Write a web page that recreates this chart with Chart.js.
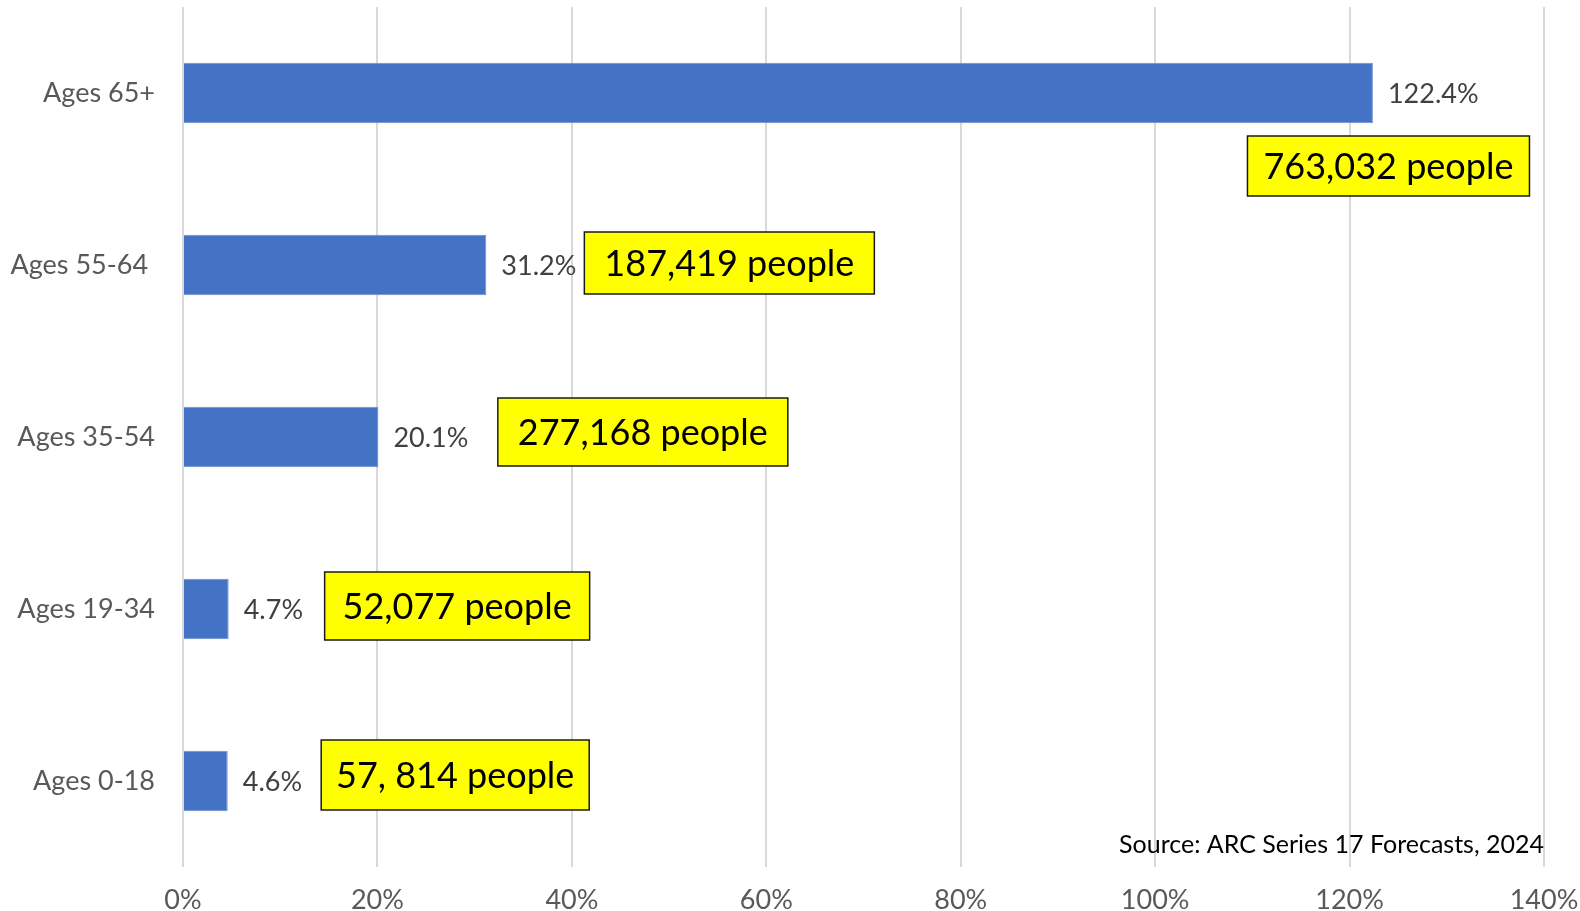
<!DOCTYPE html>
<html>
<head>
<meta charset="utf-8">
<script src="https://cdn.jsdelivr.net/npm/chart.js@4.4.1/dist/chart.umd.min.js"></script>
<style>
  html, body { margin: 0; padding: 0; background: #ffffff; }
  #wrap { width: 1580px; height: 911px; position: relative; }
</style>
</head>
<body>
<div id="wrap"><canvas id="c" width="1580" height="911"></canvas></div>
<script>
const categories = ['Ages 65+', 'Ages 55-64 ', 'Ages 35-54', 'Ages 19-34', 'Ages 0-18'];
const growthPct = [122.4, 31.2, 20.1, 4.7, 4.6];
const peopleLabels = ['763,032 people', '187,419 people', '277,168 people', '52,077 people', '57, 814 people'];
const xTicks = [0, 20, 40, 60, 80, 100, 120, 140];
const sourceNote = 'Source: ARC Series 17 Forecasts, 2024';

const FONT = 'Lato, Calibri, Carlito, "Noto Sans", sans-serif';

// box layout: centre x in axis units, vertical offset in px from bar centre, box size in px
const boxLayout = [
  { cx: 124.0, dy: 73, w: 282, h: 60 },
  { cx: 56.2, dy: -2, w: 290, h: 62 },
  { cx: 47.3, dy: -5, w: 290, h: 68 },
  { cx: 28.2, dy: -3, w: 265, h: 68 },
  { cx: 28.0, dy: -6, w: 268, h: 70 }
];

const labelPlugin = {
  id: 'labels',
  afterDatasetsDraw(chart) {
    const ctx = chart.ctx;
    const meta = chart.getDatasetMeta(0);
    const xs = chart.scales.x;
    ctx.save();
    meta.data.forEach((bar, i) => {
      // percentage label
      ctx.font = '27px ' + FONT;
      ctx.fillStyle = '#404040';
      ctx.textAlign = 'left';
      ctx.textBaseline = 'middle';
      ctx.fillText(growthPct[i].toFixed(1) + '%', bar.x + 15, bar.y + 1);
      // yellow box
      const b = boxLayout[i];
      const cx = xs.getPixelForValue(b.cx);
      const cy = bar.y + b.dy;
      ctx.fillStyle = '#ffff00';
      ctx.fillRect(cx - b.w / 2, cy - b.h / 2, b.w, b.h);
      ctx.strokeStyle = '#1a1a1a';
      ctx.lineWidth = 1.5;
      ctx.strokeRect(cx - b.w / 2, cy - b.h / 2, b.w, b.h);
      ctx.font = '36px ' + FONT;
      ctx.fillStyle = '#000000';
      ctx.textAlign = 'center';
      ctx.fillText(peopleLabels[i], cx, cy + 1);
    });
    // source note
    ctx.font = '25px ' + FONT;
    ctx.fillStyle = '#000000';
    ctx.textAlign = 'right';
    ctx.textBaseline = 'middle';
    ctx.fillText(sourceNote, chart.chartArea.right, 845);
    ctx.restore();
  }
};

new Chart(document.getElementById('c'), {
  type: 'bar',
  data: {
    labels: categories,
    datasets: [{
      data: growthPct,
      backgroundColor: '#4472C4',
      borderColor: '#6d8fd1',
      borderWidth: 1,
      barPercentage: 0.88,
      categoryPercentage: 0.4
    }]
  },
  options: {
    indexAxis: 'y',
    responsive: false,
    animation: false,
    devicePixelRatio: 1,
    layout: { padding: { left: 0, right: 36, top: 7, bottom: 0 } },
    plugins: { legend: { display: false }, tooltip: { enabled: false } },
    scales: {
      x: {
        min: 0, max: 140,
        afterBuildTicks(scale) { scale.ticks = xTicks.map(v => ({ value: v })); },
        afterFit(scale) {
          scale.height = 44;
          scale.paddingLeft = 0; scale.paddingRight = 0;
          scale.paddingTop = 0; scale.paddingBottom = 0;
        },
        grid: { color: '#d9d9d9', lineWidth: 2, drawTicks: false },
        border: { display: false },
        ticks: {
          padding: 17,
          color: '#595959',
          font: { family: FONT, size: 27 },
          callback: v => v + '%'
        }
      },
      y: {
        afterFit(scale) {
          scale.width = 183;
          scale.paddingLeft = 0; scale.paddingRight = 0;
          scale.paddingTop = 0; scale.paddingBottom = 0;
        },
        grid: { display: false, drawTicks: false },
        border: { display: false },
        ticks: {
          padding: 28,
          color: '#595959',
          font: { family: FONT, size: 27 }
        }
      }
    }
  },
  plugins: [labelPlugin]
});
</script>
</body>
</html>
